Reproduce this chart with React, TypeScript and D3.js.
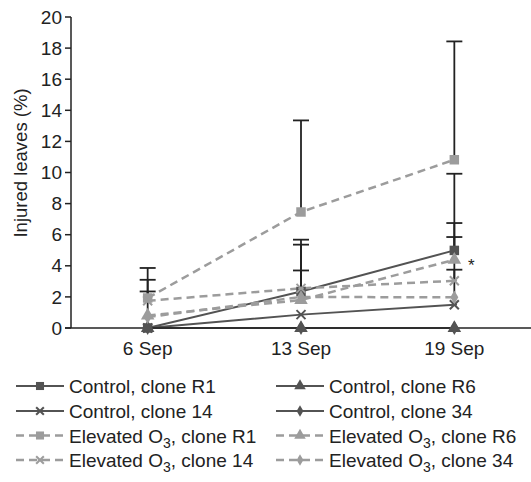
import React from 'react';
import * as d3 from 'd3';

const dates = ['6 Sep', '13 Sep', '19 Sep'];
const yTicks = [0, 2, 4, 6, 8, 10, 12, 14, 16, 18, 20];

const controlR1 = [0, 2.35, 4.99];
const controlR6 = [0, 0, 0];
const control14 = [0, 0.86, 1.5];
const control34 = [0, 0, 0];
const elevatedR1 = [1.93, 7.46, 10.82];
const elevatedR6 = [0.8, 1.8, 4.39];
const elevated14 = [1.75, 2.55, 3.04];
const elevated34 = [0.7, 2.0, 1.97];

// upper error bar ends (null = none drawn)
const controlR1Upper = [null, 5.68, 9.92];
const elevatedR1Upper = [3.86, 13.35, 18.43];
const elevatedR6Upper = [2.35, 3.7, 6.75];
const elevated14Upper = [3.1, 5.36, 5.85];
const elevated34Upper = [null, null, 3.75];

const DARK = '#535353';
const LIGHT = '#9c9c9c';
const FONT = '"Liberation Sans", Arial, Helvetica, sans-serif';

const series = [
  { name: 'Control, clone R1', values: controlR1, upper: controlR1Upper, marker: 'square', color: DARK, dashed: false },
  { name: 'Control, clone R6', values: controlR6, upper: null, marker: 'triangle', color: DARK, dashed: false },
  { name: 'Control, clone 14', values: control14, upper: null, marker: 'x', color: DARK, dashed: false },
  { name: 'Control, clone 34', values: control34, upper: null, marker: 'diamond', color: DARK, dashed: false },
  { name: 'Elevated O3, clone R1', values: elevatedR1, upper: elevatedR1Upper, marker: 'square', color: LIGHT, dashed: true },
  { name: 'Elevated O3, clone R6', values: elevatedR6, upper: elevatedR6Upper, marker: 'triangle', color: LIGHT, dashed: true },
  { name: 'Elevated O3, clone 14', values: elevated14, upper: elevated14Upper, marker: 'x', color: LIGHT, dashed: true },
  { name: 'Elevated O3, clone 34', values: elevated34, upper: elevated34Upper, marker: 'diamond', color: LIGHT, dashed: true },
];

// legend order: two columns
const legendCol1 = [0, 2, 4, 6];
const legendCol2 = [1, 3, 5, 7];

function Marker({ type, x, y, color, scale = 1 }) {
  if (type === 'x') {
    const r = 4.5 * scale;
    return (
      <g transform={`translate(${x},${y})`} stroke={color} strokeWidth={2}>
        <line x1={-r} y1={-r} x2={r} y2={r} />
        <line x1={-r} y1={r} x2={r} y2={-r} />
        <line x1={-r * 0.6} y1={0} x2={r * 0.6} y2={0} strokeWidth={1.5} />
      </g>
    );
  }
  const sym = type === 'square' ? d3.symbolSquare : type === 'triangle' ? d3.symbolTriangle : d3.symbolDiamond;
  const size = (type === 'square' ? 90 : type === 'triangle' ? 80 : 55) * scale * scale;
  const path = d3.symbol().type(sym).size(size)();
  return <path d={path} transform={`translate(${x},${y})`} fill={color} />;
}

function Label({ name, x, y }) {
  const parts = name.split('O3');
  return (
    <text x={x} y={y} fontSize={19} fontFamily={FONT} fill="#222">
      {parts.length > 1 ? (
        <>
          {parts[0]}O<tspan fontSize={14} dy={5}>3</tspan>
          <tspan dy={-5}>{parts[1]}</tspan>
        </>
      ) : name}
    </text>
  );
}

export default function App() {
  const x = d3.scalePoint().domain(dates).range([71, 531]).padding(0.5);
  const y = d3.scaleLinear().domain([0, 20]).range([328, 17]);

  const line = d3.line<number>()
    .x((d, i) => x(dates[i]))
    .y(d => y(d));

  const legendRows = [386, 411, 435.5, 460];

  return (
    <svg width={531} height={482} style={{ position: 'absolute', left: 0, top: 0, background: '#fff' }}>
      {/* y axis */}
      <line x1={71} x2={71} y1={y(20)} y2={y(0)} stroke="#222" strokeWidth={1.5} />
      {yTicks.map(t => (
        <g key={t}>
          <line x1={65} x2={71} y1={y(t)} y2={y(t)} stroke="#222" strokeWidth={1.5} />
          <text x={62} y={y(t)} dy="0.35em" textAnchor="end" fontSize={19} fontFamily={FONT} fill="#222">{t}</text>
        </g>
      ))}
      <text transform={`translate(27,163) rotate(-90)`} textAnchor="middle" fontSize={18.5} fontFamily={FONT} fill="#222">
        Injured leaves (%)
      </text>

      {/* error bars */}
      {series.map((s, si) => s.upper && s.upper.map((u, i) => u == null ? null : (
        <g key={`e${si}-${i}`} stroke="#222" strokeWidth={1.8}>
          <line x1={x(dates[i])} x2={x(dates[i])} y1={y(s.values[i])} y2={y(u)} />
          <line x1={x(dates[i]) - 8} x2={x(dates[i]) + 8} y1={y(u)} y2={y(u)} />
        </g>
      )))}

      {/* lines */}
      {series.map((s, si) => (
        <path key={`l${si}`} d={line(s.values)} fill="none" stroke={s.color}
          strokeWidth={s.dashed ? 2.5 : 2} strokeDasharray={s.dashed ? '8,5' : undefined} />
      ))}

      {/* x axis */}
      <line x1={65} x2={531} y1={y(0)} y2={y(0)} stroke="#222" strokeWidth={1.5} />
      {dates.map(d => (
        <text key={d} x={x(d)} y={355} textAnchor="middle" fontSize={19} fontFamily={FONT} fill="#222">{d}</text>
      ))}

      {/* markers */}
      {series.map((s, si) => s.values.map((v, i) => (
        <Marker key={`m${si}-${i}`} type={s.marker} x={x(dates[i])} y={y(v)} color={s.color} />
      )))}

      <text x={x('19 Sep') + 17} y={y(elevatedR6[2]) + 11} textAnchor="middle" fontSize={17} fontFamily={FONT} fill="#222">*</text>

      {/* legend */}
      {[legendCol1, legendCol2].map((col, ci) => {
        const lx0 = ci === 0 ? 16 : 276;
        const lx1 = ci === 0 ? 64 : 324;
        const tx = ci === 0 ? 69 : 329;
        return col.map((idx, ri) => {
          const s = series[idx];
          const ly = legendRows[ri];
          return (
            <g key={`lg${idx}`}>
              <line x1={lx0} x2={lx1} y1={ly} y2={ly} stroke={s.color}
                strokeWidth={s.dashed ? 2.5 : 2} strokeDasharray={s.dashed ? '8,5' : undefined} />
              <Marker type={s.marker} x={(lx0 + lx1) / 2} y={ly} color={s.color} scale={0.85} />
              <Label name={s.name} x={tx} y={ly + 7} />
            </g>
          );
        });
      })}
    </svg>
  );
}
